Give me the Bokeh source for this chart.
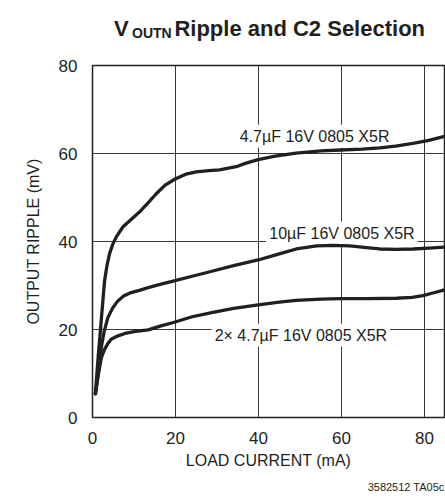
from bokeh.plotting import figure
from bokeh.models import Label, FixedTicker, Range1d, Title
from bokeh.layouts import column
from bokeh.embed import file_html
from bokeh.resources import INLINE

# ---- data ----
x_ticks = [0, 20, 40, 60, 80]
y_ticks = [0, 20, 40, 60, 80]

load_47 = [0.7, 1.3, 2.1, 2.9, 3.5, 4.1, 4.9, 5.7, 7.3, 9.3, 11.3, 13.5, 15.3, 17.5, 19.9, 22.5, 25,
           28, 30.6, 34.6, 37, 39.9, 44, 49.1, 55, 59.8, 65, 69.2, 73, 77.2, 81, 84.8]
ripple_47 = [5.4, 13, 22, 31, 34.6, 37.2, 39.4, 41, 43.3, 45, 46.7, 48.9, 50.8, 52.8, 54.2, 55.3, 55.8,
             56.1, 56.3, 57, 57.8, 58.6, 59.4, 60.1, 60.6, 60.8, 61.0, 61.3, 61.7, 62.3, 63, 63.9]

load_10 = [0.7, 1.4, 2.1, 2.8, 3.7, 4.8, 6.1, 7.5, 9.3, 11.3, 13.4, 16.5, 19.9, 24, 29, 34,
           39.9, 45, 49.1, 54, 57.9, 62, 66, 69.2, 73, 77.2, 81, 84.8]
ripple_10 = [5.4, 10, 15.9, 19.5, 22.7, 24.8, 26.5, 27.6, 28.4, 28.9, 29.5, 30.3, 31.1, 32.1,
             33.3, 34.5, 35.8, 37.2, 38.3, 39.0, 39.1, 39.0, 38.6, 38.3, 38.2, 38.3, 38.5, 38.7]

load_2x47 = [0.7, 1.2, 1.7, 2.2, 2.9, 3.7, 4.5, 6, 7.8, 10, 13.4, 16.1, 19.9, 24, 29, 34,
             39.9, 45, 49.1, 55, 59.8, 66, 73.2, 77, 79.6, 82, 84.8]
ripple_2x47 = [5.4, 8.5, 11.4, 13.8, 15.5, 16.8, 17.8, 18.5, 19.1, 19.5, 19.9, 20.7, 21.7,
               22.9, 23.9, 24.8, 25.6, 26.2, 26.6, 26.9, 27.0, 27.0, 27.1, 27.3, 27.7, 28.3, 29.0]

series_labels = ["4.7\u00b5F 16V 0805 X5R", "10\u00b5F 16V 0805 X5R", "2\u00d7 4.7\u00b5F 16V 0805 X5R"]

FONT = "Liberation Sans"
TXT = "#231f20"
X_MAX = 84.8

# ---- title strip (separate small figure so the subscript can be drawn) ----
t = figure(width=445, height=50, output_backend="svg", toolbar_location=None,
           x_range=Range1d(0, X_MAX), y_range=Range1d(0, 50),
           min_border_left=92, min_border_right=1, min_border_top=0, min_border_bottom=0)
t.axis.visible = False
t.grid.visible = False
t.outline_line_color = None
t.background_fill_color = "white"
t.border_fill_color = "white"
t.add_layout(Label(x=5.18, y=21.7, text="V", text_align="left", text_baseline="alphabetic",
                   text_font=FONT, text_font_size="22px", text_font_style="bold", text_color=TXT))
t.add_layout(Label(x=9.52, y=17.3, text="OUTN", text_align="left", text_baseline="alphabetic",
                   text_font=FONT, text_font_size="14px", text_font_style="bold", text_color=TXT))
t.add_layout(Label(x=49.92, y=21.7, text="Ripple and C2 Selection", text_align="center",
                   text_baseline="alphabetic", text_font=FONT, text_font_size="22px",
                   text_font_style="bold", text_color=TXT))

# ---- main chart ----
p = figure(width=445, height=450, output_backend="svg", toolbar_location=None,
           x_range=Range1d(0, X_MAX), y_range=Range1d(0, 80),
           min_border_left=92, min_border_right=1, min_border_top=15, min_border_bottom=83)
p.background_fill_color = "white"
p.border_fill_color = "white"
p.outline_line_color = "#231f20"
p.outline_line_width = 1.5

for ax in (p.xaxis[0], p.yaxis[0]):
    ax.axis_line_color = None
    ax.major_tick_line_color = None
    ax.minor_tick_line_color = None
    ax.major_label_text_font = FONT
    ax.major_label_text_font_size = "17px"
    ax.major_label_text_color = TXT
    ax.axis_label_text_font = FONT
    ax.axis_label_text_font_size = "16px"
    ax.axis_label_text_font_style = "normal"
    ax.axis_label_text_color = TXT

p.xaxis.ticker = FixedTicker(ticks=x_ticks)
p.yaxis.ticker = FixedTicker(ticks=y_ticks)
p.xaxis.major_label_standoff = 8
p.yaxis.major_label_standoff = 9
p.xaxis.axis_label = "LOAD CURRENT (mA)"
p.yaxis.axis_label = "OUTPUT RIPPLE (mV)"
p.xaxis.axis_label_standoff = 5
p.yaxis.axis_label_standoff = 14

p.xgrid.ticker = FixedTicker(ticks=x_ticks)
p.ygrid.ticker = FixedTicker(ticks=y_ticks)
for g in (p.xgrid[0], p.ygrid[0]):
    g.grid_line_color = "#3a3a3a"
    g.grid_line_width = 1

# curve labels with white boxes (drawn over the grid, under the curves)
for txt, (lx, ly) in zip(series_labels, [(53.5, 63.92), (60.1, 41.92), (50.2, 18.72)]):
    p.add_layout(Label(x=lx, y=ly, text=txt, text_align="center", text_baseline="alphabetic",
                       text_font=FONT, text_font_size="16px", text_color=TXT,
                       background_fill_color="white", padding=3, level="underlay"))

for xs, ys in ((load_47, ripple_47), (load_10, ripple_10), (load_2x47, ripple_2x47)):
    p.line(xs, ys, line_color="#231f20", line_width=3.3, line_join="round", line_cap="round")

# footnote
p.add_layout(Title(text="3582512 TA05c", align="right", text_font=FONT, text_font_size="11px",
                   text_font_style="normal", text_color=TXT, standoff=14), "below")

layout = column(t, p, spacing=0)
open("out.html", "w").write(file_html(layout, INLINE))
